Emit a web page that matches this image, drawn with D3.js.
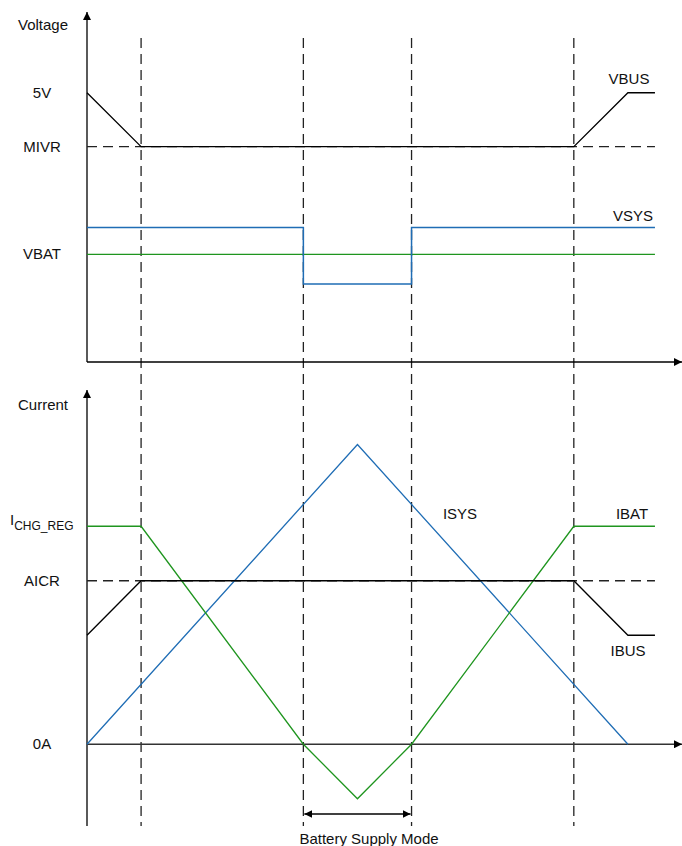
<!DOCTYPE html>
<html>
<head>
<meta charset="utf-8">
<script src="https://cdn.jsdelivr.net/npm/d3@7"></script>
<style>
  body { margin: 0; background: #fff; }
  svg text { font-family: "Liberation Sans", Arial, sans-serif; font-size: 15px; fill: #111; }
</style>
</head>
<body>
<svg width="682" height="846"></svg>
<script>
// time instants (abstract units) where the phases change
var phaseTimes = [1, 4, 6, 9];
var tEnd = 10.5;

// voltage panel (abstract units)
var vbus = [[0, 5], [1, 4], [9, 4], [10, 5], [10.5, 5]];
var vsys = [[0, 2.5], [4, 2.5], [4, 1.45], [6, 1.45], [6, 2.5], [10.5, 2.5]];
var vbat = [[0, 2], [10.5, 2]];
var vTicks = [{v: 5, label: "5V"}, {v: 4, label: "MIVR"}, {v: 2, label: "VBAT"}];
var mivr = 4;

// current panel (abstract units)
var ibat = [[0, 4], [1, 4], [4, 0], [5, -1], [6, 0], [9, 4], [10.5, 4]];
var ibus = [[0, 2], [1, 3], [9, 3], [10, 2], [10.5, 2]];
var isys = [[0, 0], [5, 5.5], [10, 0]];
var iTicks = [{v: 4, label: "I", sub: "CHG_REG"}, {v: 3, label: "AICR"}, {v: 0, label: "0A"}];
var aicr = 3;

var blue = "#1f6db5", green = "#1f951f";

var svg = d3.select("svg");

var x = d3.scaleLinear().domain([0, 11]).range([87, 682]);
var yV = d3.scaleLinear().domain([0, 6.5]).range([362, 12]);
var yI = d3.scaleLinear().domain([-1.5, 6.5]).range([826, 390]);

var defs = svg.append("defs");
defs.append("marker")
  .attr("id", "arrow")
  .attr("viewBox", "0 -5 10 10")
  .attr("refX", 10).attr("refY", 0)
  .attr("markerWidth", 8).attr("markerHeight", 8)
  .attr("markerUnits", "userSpaceOnUse")
  .attr("orient", "auto-start-reverse")
  .append("path").attr("d", "M0,-5L10,0L0,5Z").attr("fill", "#000");

var line = function(ys) {
  return d3.line().x(function(d) { return x(d[0]); }).y(function(d) { return ys(d[1]); });
};

// vertical dashed phase lines
svg.append("g").selectAll("line")
  .data(phaseTimes)
  .enter().append("line")
  .attr("x1", function(d) { return x(d); }).attr("x2", function(d) { return x(d); })
  .attr("y1", 38).attr("y2", 826)
  .attr("stroke", "#222").attr("stroke-width", 1.3)
  .attr("stroke-dasharray", "10,6");

// ---- voltage panel ----
var gV = svg.append("g");
gV.append("line")
  .attr("x1", x(0)).attr("x2", x(0)).attr("y1", yV(0)).attr("y2", yV(6.5))
  .attr("stroke", "#000").attr("stroke-width", 1.3).attr("marker-end", "url(#arrow)");
gV.append("line")
  .attr("x1", x(0)).attr("x2", x(11)).attr("y1", yV(0)).attr("y2", yV(0))
  .attr("stroke", "#000").attr("stroke-width", 1.3).attr("marker-end", "url(#arrow)");
gV.append("line")
  .attr("x1", x(0)).attr("x2", x(tEnd)).attr("y1", yV(mivr)).attr("y2", yV(mivr))
  .attr("stroke", "#222").attr("stroke-width", 1.3).attr("stroke-dasharray", "10,6");

gV.append("path").datum(vbat).attr("d", line(yV))
  .attr("fill", "none").attr("stroke", green).attr("stroke-width", 1.3);
gV.append("path").datum(vsys).attr("d", line(yV))
  .attr("fill", "none").attr("stroke", blue).attr("stroke-width", 1.5);
gV.append("path").datum(vbus).attr("d", line(yV))
  .attr("fill", "none").attr("stroke", "#000").attr("stroke-width", 1.3);

gV.append("text").attr("x", 18).attr("y", 30).text("Voltage");
gV.selectAll("text.tick")
  .data(vTicks)
  .enter().append("text").attr("class", "tick")
  .attr("x", 42).attr("y", function(d) { return yV(d.v) + 5; })
  .attr("text-anchor", "middle")
  .text(function(d) { return d.label; });
gV.append("text").attr("x", 629).attr("y", 84).attr("text-anchor", "middle").text("VBUS");
gV.append("text").attr("x", 633).attr("y", 221).attr("text-anchor", "middle").text("VSYS");

// ---- current panel ----
var gI = svg.append("g");
gI.append("line")
  .attr("x1", x(0)).attr("x2", x(0)).attr("y1", yI(-1.5)).attr("y2", yI(6.5))
  .attr("stroke", "#000").attr("stroke-width", 1.3).attr("marker-end", "url(#arrow)");
gI.append("line")
  .attr("x1", x(0)).attr("x2", x(11)).attr("y1", yI(0)).attr("y2", yI(0))
  .attr("stroke", "#333").attr("stroke-width", 1.6).attr("marker-end", "url(#arrow)");
gI.append("line")
  .attr("x1", x(0)).attr("x2", x(tEnd)).attr("y1", yI(aicr)).attr("y2", yI(aicr))
  .attr("stroke", "#222").attr("stroke-width", 1.3).attr("stroke-dasharray", "10,6");

gI.append("path").datum(isys).attr("d", line(yI))
  .attr("fill", "none").attr("stroke", blue).attr("stroke-width", 1.3);
gI.append("path").datum(ibat).attr("d", line(yI))
  .attr("fill", "none").attr("stroke", green).attr("stroke-width", 1.3);
gI.append("path").datum(ibus).attr("d", line(yI))
  .attr("fill", "none").attr("stroke", "#000").attr("stroke-width", 1.3);

gI.append("text").attr("x", 18).attr("y", 410).text("Current");
var tk = gI.selectAll("text.tick")
  .data(iTicks)
  .enter().append("text").attr("class", "tick")
  .attr("x", function(d) { return d.sub ? 10 : 42; })
  .attr("y", function(d) { return yI(d.v) + 5 - (d.sub ? 6 : 0); })
  .attr("text-anchor", function(d) { return d.sub ? "start" : "middle"; });
tk.append("tspan").text(function(d) { return d.label; });
tk.filter(function(d) { return d.sub; })
  .append("tspan").attr("dy", 5).style("font-size", "12px")
  .text(function(d) { return d.sub; });

gI.append("text").attr("x", 460).attr("y", 519).attr("text-anchor", "middle").text("ISYS");
gI.append("text").attr("x", 632).attr("y", 519).attr("text-anchor", "middle").text("IBAT");
gI.append("text").attr("x", 628).attr("y", 656).attr("text-anchor", "middle").text("IBUS");

// battery supply mode span
gI.append("line")
  .attr("x1", x(phaseTimes[1]) + 1).attr("x2", x(phaseTimes[2]) - 1)
  .attr("y1", 814).attr("y2", 814)
  .attr("stroke", "#000").attr("stroke-width", 1.5)
  .attr("marker-start", "url(#arrow)").attr("marker-end", "url(#arrow)");
gI.append("text")
  .attr("x", 369).attr("y", 844)
  .attr("text-anchor", "middle").text("Battery Supply Mode");
</script>
</body>
</html>
